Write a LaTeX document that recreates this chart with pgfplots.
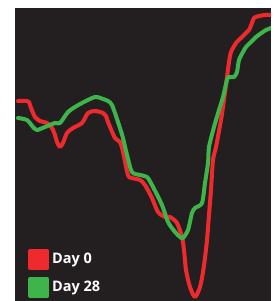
\documentclass[border=0pt]{standalone}
\usepackage{pgfplots}
\pgfplotsset{compat=1.18}
\usepackage{fontspec}
\setmainfont{Open Sans}
\definecolor{bgdark}{HTML}{231F20}
\definecolor{cred}{HTML}{EE2A2F}
\definecolor{cgreen}{HTML}{3DB54A}
\begin{document}
\begin{tikzpicture}
\begin{axis}[
  x=1pt, y=1pt,
  xmin=15, xmax=271, ymin=0, ymax=293,
  hide axis,
  axis background/.style={fill=bgdark},
  clip=true,
  legend image code/.code={\fill[#1] (0pt,-8.5pt) rectangle (17pt,8.5pt);},
  legend style={at={(rel axis cs:0,0)}, anchor=south west, xshift=13pt, yshift=3pt,
    draw=none, fill=none, text=white, font=\bfseries\fontsize{14.5}{16}\selectfont,
    inner sep=0pt, row sep=7pt, column sep=1pt},
  legend cell align=left,
]
\addplot[cred, line width=4pt, smooth, tension=0.45, line join=round, line cap=round] coordinates {
(18,200)(27,200)(29,199)(31,193)(35,184)(40,180)(47,178)(52,173)(55,166)(57,159)(60,154)(63,158)(67,168)(73,173)(82,178)(88,188)(95,190)(103,188)(106,185)(108,179)(115,163)(120,159)(123,149)(128,126)(132,123)(140,121)(145,116)(152,103)(158,89)(165,84)(170,84)(177,78)(182,64)(184,51)(186,31)(190,14)(195,4)(200,14)(203,29)(205,43)(207,61)(209,86)(211,111)(213,141)(216,154)(221,181)(224,201)(227,224)(229,239)(231,249)(236,258)(241,263)(246,268)(249,271)(252,278)(254,283)(259,285)(265,286)(271,286)
};
\addlegendentry{Day 0}
\addplot[cgreen, line width=4pt, smooth, tension=0.45, line join=round, line cap=round] coordinates {
(18,183)(27,181)(33,174)(37,171)(45,174)(55,178)(60,178)(68,189)(75,194)(82,198)(95,204)(103,202)(108,200)(112,196)(118,179)(123,163)(127,146)(132,129)(140,126)(147,124)(152,116)(162,96)(168,79)(175,69)(180,64)(183,63)(188,71)(192,88)(195,93)(202,98)(205,118)(208,138)(209,154)(214,174)(219,191)(223,204)(227,221)(229,224)(234,224)(237,229)(239,241)(243,249)(246,254)(252,260)(256,264)(260,267)(266,271)(271,273)
};
\addlegendentry{Day 28}
\path (rel axis cs:0,0) ++(-15pt,0pt) coordinate (bbA);
\path (rel axis cs:1,1) ++(7pt,8pt) coordinate (bbB);
\end{axis}
\path (bbA) (bbB);
\end{tikzpicture}
\end{document}
